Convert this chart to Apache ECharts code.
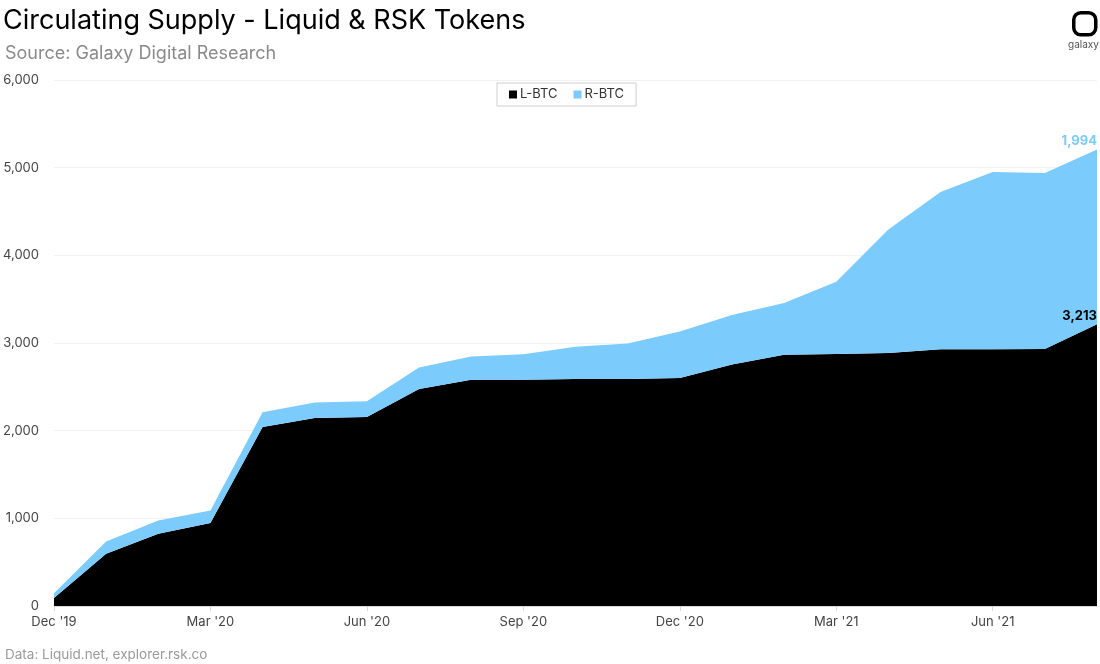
<!DOCTYPE html>
<html>
<head>
<meta charset="utf-8">
<script src="https://cdn.jsdelivr.net/npm/echarts@6/dist/echarts.min.js"></script>
<style>
  html, body { margin: 0; padding: 0; background: #fff; }
  #chart { width: 1100px; height: 664px; }
</style>
</head>
<body>
<div id="chart"></div>
<script>
// months, Dec '19 .. Aug '21
const months = ["Dec '19", "Jan '20", "Feb '20", "Mar '20", "Apr '20", "May '20", "Jun '20",
  "Jul '20", "Aug '20", "Sep '20", "Oct '20", "Nov '20", "Dec '20", "Jan '21", "Feb '21",
  "Mar '21", "Apr '21", "May '21", "Jun '21", "Jul '21", "Aug '21"];

// L-BTC circulating supply
const lbtc = [91, 595, 825, 947, 2042, 2145, 2155, 2475, 2580, 2580, 2590, 2590, 2600,
  2755, 2865, 2875, 2885, 2930, 2930, 2932, 3213];

// R-BTC circulating supply (stacked on top)
const rbtc = [54, 140, 150, 141, 168, 175, 180, 245, 265, 292, 368, 405, 530,
  565, 591, 825, 1410, 1792, 2020, 2006, 1994];

const BLUE = '#7ccbfd';
const FONT = 'Inter, "Noto Sans", sans-serif';

function endLabel(color) {
  return {
    show: true, align: 'right', verticalAlign: 'bottom', offset: [0, -2], distance: 0,
    formatter: function (p) { return Number(p.value).toLocaleString('en-US'); },
    color: color, fontWeight: 'bold', fontSize: 13, fontFamily: FONT
  };
}

const chart = echarts.init(document.getElementById('chart'));
chart.setOption({
  backgroundColor: '#fff',
  animation: false,
  textStyle: { fontFamily: FONT },
  title: [
    {
      text: 'Circulating Supply - Liquid & RSK Tokens',
      left: -2, top: 2,
      textStyle: { fontSize: 27, fontWeight: 'normal', color: '#000', fontFamily: FONT, letterSpacing: 0.05 }
    },
    {
      text: 'Source: Galaxy Digital Research',
      left: 0, top: 40,
      textStyle: { fontSize: 18, fontWeight: 'normal', color: '#8a8a8a', fontFamily: FONT, letterSpacing: -0.5 }
    },
    {
      text: 'Data: Liquid.net, explorer.rsk.co',
      left: 0, top: 643,
      textStyle: { fontSize: 13.5, fontWeight: 'normal', color: '#9a9a9a', fontFamily: FONT, letterSpacing: -0.8 }
    }
  ],
  graphic: [
    {
      type: 'rect', left: 1072, top: 11,
      shape: { width: 22, height: 22, r: 7 },
      style: { fill: '#fff', stroke: '#000', lineWidth: 3.5 }
    },
    {
      type: 'text', left: 1068, top: 40,
      style: { text: 'galaxy', fontSize: 10, fill: '#555', fontFamily: FONT }
    }
  ],
  legend: {
    top: 83, left: 497,
    data: ['L-BTC', 'R-BTC'],
    icon: 'rect', itemWidth: 8, itemHeight: 8, itemGap: 16,
    borderColor: '#cfcfcf', borderWidth: 1, padding: [5, 12],
    textStyle: { fontSize: 13, color: '#333', fontFamily: FONT, padding: [0, 0, 0, -2] }
  },
  grid: { left: 52, right: 3, top: 80, bottom: 58 },
  xAxis: {
    type: 'category',
    data: months,
    boundaryGap: false,
    axisLine: { lineStyle: { color: '#d9d9d9' } },
    axisTick: { interval: 2, length: 5, lineStyle: { color: '#d9d9d9' } },
    axisLabel: { interval: 2, color: '#444', fontSize: 13, margin: 10, fontFamily: FONT },
    splitLine: { show: false }
  },
  yAxis: {
    type: 'value',
    min: 0, max: 6000, interval: 1000,
    axisLine: { show: false },
    axisTick: { show: false },
    axisLabel: {
      color: '#444', fontSize: 13, margin: 15, fontFamily: FONT,
      formatter: function (v) { return v.toLocaleString('en-US'); }
    },
    splitLine: { lineStyle: { color: '#f2f2f2' } }
  },
  series: [
    {
      name: 'L-BTC', type: 'line', stack: 'total',
      data: lbtc,
      symbol: 'none',
      lineStyle: { width: 0 },
      itemStyle: { color: '#000' },
      areaStyle: { color: '#000', opacity: 1 },
      endLabel: endLabel('#000')
    },
    {
      name: 'R-BTC', type: 'line', stack: 'total',
      data: rbtc,
      symbol: 'none',
      lineStyle: { width: 0 },
      itemStyle: { color: BLUE },
      areaStyle: { color: BLUE, opacity: 1 },
      endLabel: endLabel(BLUE)
    }
  ]
});
</script>
</body>
</html>
